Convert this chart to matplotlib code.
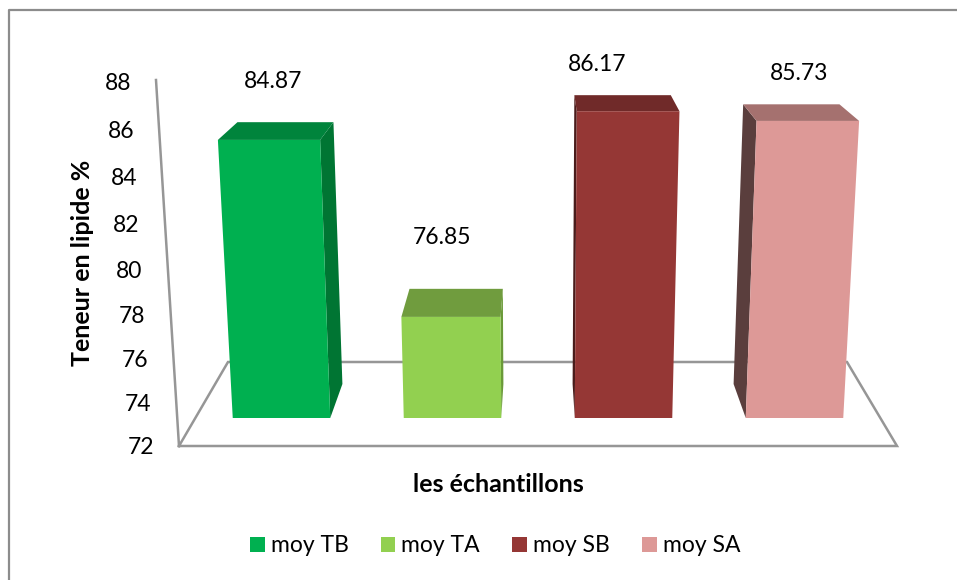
# -*- coding: UTF-8 -*-

import matplotlib
matplotlib.use('Agg')
import matplotlib.pyplot as plt
from matplotlib.patches import Polygon, Patch

categories = ['moy TB', 'moy TA', 'moy SB', 'moy SA']
values = [84.87, 76.85, 86.17, 85.73]
tick_values = [72, 74, 76, 78, 80, 82, 84, 86, 88]
x_title = 'les échantillons'
y_title = 'Teneur en lipide %'

front_colors = ['#00B050', '#92D050', '#953735', '#DD9997']
top_colors = ['#00843C', '#709C3E', '#702A29', '#A5716F']
side_colors = ['#007533', '#6A9A38', '#4A1C1B', '#5A3E3D']

plt.rcParams['font.family'] = ['Lato', 'DejaVu Sans']

# Projection parameters, in pixels of the 957x580 picture
centerX = 538.0
frontY = 418.0
depthY = 34.0
depthShrink = 0.0585
valueBase = 72.27
valueScale = 22.07
taper = 0.000175
barStep = 171.0
barHalf = 48.75


def project(x, value, depth):
    # x is the offset from the center on the bar's front plane, depth goes 0..1
    shrink = 1 - depthShrink * depth
    height = (value - valueBase) * valueScale * shrink
    px = centerX + x * shrink * (1 + taper * height)
    py = frontY - depthY * depth - height
    return px, py


def tick_position(value):
    t = value - tick_values[0]
    return 141 - 23 * t / 16, 447.5 - 21.25 * t - 0.094 * t * t


fig = plt.figure(figsize=(9.57, 5.8), dpi=100)
ax = fig.add_axes([0, 0, 1, 1])
ax.set_xlim(0, 957)
ax.set_ylim(580, 0)
ax.axis('off')

# Chart border, runs off the picture on the right and at the bottom
ax.plot([9, 9, 957], [580, 10, 10], color='#8C8C8C', lw=1.6, zorder=1)

# Floor and value axis
gray = '#969696'
ax.plot([179, 897, 847, 228, 179], [446, 446, 362, 362, 446], color=gray, lw=1.8, zorder=1,
        solid_joinstyle='miter')
ax.plot([179, 156], [446, 80], color=gray, lw=1.8, zorder=1)

for tick in tick_values:
    tx, ty = tick_position(tick)
    ax.text(tx, ty, str(tick), fontsize=16.5, color='black', ha='center', va='center')

# Bars
labelShift = [(4, -58), (-9, -79), (-31, -47), (-9, -47)]
for i, value in enumerate(values):
    center = (i - 1.5) * barStep
    left = center - barHalf
    right = center + barHalf

    front = [project(left, valueBase, 0), project(right, valueBase, 0),
             project(right, value, 0), project(left, value, 0)]
    top = [project(left, value, 0), project(right, value, 0),
           project(right, value, 1), project(left, value, 1)]

    # Only the side that faces the center of the chart can be seen
    if right < 0:
        sideX = right
    else:
        sideX = left
    side = [project(sideX, valueBase, 0), project(sideX, value, 0),
            project(sideX, value, 1), project(sideX, valueBase, 1)]

    ax.add_patch(Polygon(side, closed=True, fc=side_colors[i], ec='none', zorder=2))
    ax.add_patch(Polygon(top, closed=True, fc=top_colors[i], ec='none', zorder=2))
    ax.add_patch(Polygon(front, closed=True, fc=front_colors[i], ec='none', zorder=3))

    topX = (front[2][0] + front[3][0]) / 2
    ax.text(topX + labelShift[i][0], front[2][1] + labelShift[i][1], '%.2f' % value,
            fontsize=16.5, color='black', ha='center', va='center')

# Axis titles
ax.text(82, 263, y_title, fontsize=18, fontweight='bold', rotation=90,
        ha='center', va='center')
ax.text(498, 485, x_title, fontsize=18, fontweight='bold', ha='center', va='center')

# Legend
handles = [Patch(fc=c, ec='none') for c in front_colors]
ax.legend(handles, categories, ncol=4, frameon=False, fontsize=16.5,
          loc='center', bbox_to_anchor=(495, 546), bbox_transform=ax.transData,
          handlelength=0.65, handleheight=0.65, handletextpad=0.26,
          columnspacing=1.4, borderpad=0, borderaxespad=0)

fig.savefig('out.png', dpi=100)
